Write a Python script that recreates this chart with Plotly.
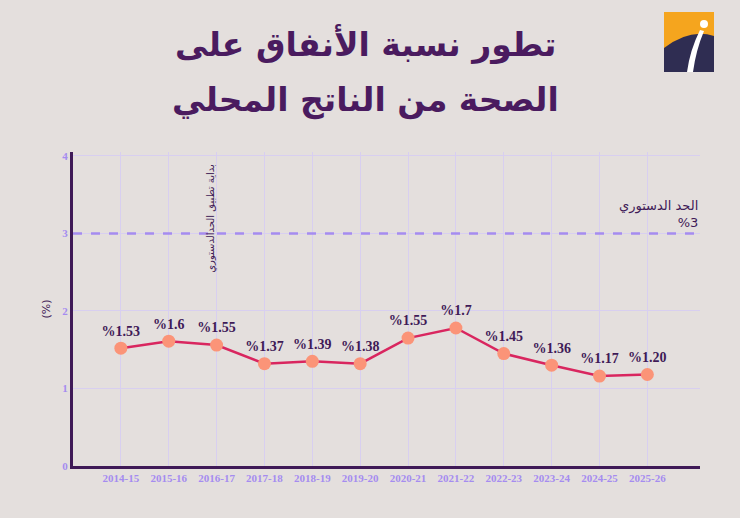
import plotly.graph_objects as go

# data
years = ["2014-15", "2015-16", "2016-17", "2017-18", "2018-19", "2019-20",
         "2020-21", "2021-22", "2022-23", "2023-24", "2024-25", "2025-26"]
share_plotted = [1.52, 1.61, 1.56, 1.32, 1.35, 1.32, 1.65, 1.78, 1.45, 1.30, 1.16, 1.18]
share_labels = ["%1.53", "%1.6", "%1.55", "%1.37", "%1.39", "%1.38",
                "%1.55", "%1.7", "%1.45", "%1.36", "%1.17", "%1.20"]
limit_value = 3
limit_start_year = "2016-17"
title_lines = ["تطور نسبة الأنفاق على", "الصحة من الناتج المحلي"]

bg = "#e4dfdd"
dark = "#3f1a57"
lavender = "#a58cf0"

L, R, T, B = 73, 40, 152, 52
PW, PH = 740 - L - R, 518 - T - B


def px_x(x):
    return (x - L) / PW


def px_y(y):
    return (518 - B - y) / PH


fig = go.Figure()

# constitutional limit
fig.add_trace(go.Scatter(
    x=[-1, 12.1], y=[limit_value, limit_value],
    mode="lines", line=dict(color=lavender, width=2.5, dash="dash"),
    hoverinfo="skip", showlegend=False
))

fig.add_trace(go.Scatter(
    x=list(range(len(years))), y=share_plotted,
    mode="lines+markers+text",
    line=dict(color="#d9265f", width=2.5),
    marker=dict(color="#fb9478", size=13),
    text=share_labels, textposition="top center",
    textfont=dict(family="Liberation Serif", size=14, color=dark, weight="bold"),
    showlegend=False
))

fig.update_layout(
    width=740, height=518,
    paper_bgcolor=bg, plot_bgcolor=bg,
    margin=dict(l=L, r=R, t=T, b=B),
    font=dict(family="DejaVu Sans", color=dark),
)

fig.update_xaxes(
    range=[-1, 12.1],
    tickmode="array", tickvals=list(range(len(years))), ticktext=years,
    tickfont=dict(family="Liberation Serif", size=11, color=lavender, weight="bold"),
    showgrid=True, gridcolor="#d8cff0", gridwidth=1,
    showline=True, linecolor=dark, linewidth=3,
    zeroline=False, ticks="", ticklabelstandoff=0,
)
fig.update_yaxes(
    range=[0, 4.05], tickvals=[0, 1, 2, 3, 4],
    tickfont=dict(family="Liberation Serif", size=11, color=lavender, weight="bold"),
    showgrid=True, gridcolor="#d8cff0", gridwidth=1,
    showline=True, linecolor=dark, linewidth=3,
    zeroline=False, ticks="",
    title=dict(text="(%)", font=dict(size=11, color=dark), standoff=10),
)

# title, two lines
for line, y_px in zip(title_lines, [45, 100]):
    fig.add_annotation(
        text=line, xref="paper", yref="paper",
        x=px_x(365), y=px_y(y_px),
        xanchor="center", yanchor="middle", showarrow=False,
        font=dict(family="DejaVu Sans", size=33, color="#4a1b5f", weight="bold"),
    )

# limit label
fig.add_annotation(
    text="الحد الدستوري<br>%3",
    x=12.1, y=limit_value, xanchor="right", yanchor="bottom",
    showarrow=False, align="right", yshift=1,
    font=dict(family="DejaVu Sans", size=13, color=dark),
)

# start of applying the limit
fig.add_annotation(
    text="بداية تطبيق الحدالدستوري",
    x=years.index(limit_start_year) - 0.12, y=3.2,
    textangle=-90, showarrow=False,
    font=dict(family="DejaVu Sans", size=10, color=dark),
)

# logo
fig.add_shape(type="rect", xref="paper", yref="paper",
              x0=px_x(664), x1=px_x(714), y0=px_y(72), y1=px_y(12),
              fillcolor="#f5a51e", line=dict(width=0), layer="above")
fig.add_shape(type="path", xref="paper", yref="paper",
              path="M {} {} Q {} {} {} {} L {} {} L {} {} Z".format(
                  px_x(664), px_y(48), px_x(690), px_y(28), px_x(714), px_y(36),
                  px_x(714), px_y(72), px_x(664), px_y(72)),
              fillcolor="#2f2d52", line=dict(width=0), layer="above")
fig.add_shape(type="path", xref="paper", yref="paper",
              path="M {} {} Q {} {} {} {} L {} {} Q {} {} {} {} Z".format(
                  px_x(700), px_y(30), px_x(690), px_y(50), px_x(687), px_y(72),
                  px_x(693), px_y(72), px_x(696), px_y(50), px_x(704), px_y(31)),
              fillcolor="white", line=dict(width=0), layer="above")
fig.add_shape(type="circle", xref="paper", yref="paper",
              x0=px_x(700), x1=px_x(708), y0=px_y(28), y1=px_y(20),
              fillcolor="white", line=dict(width=0), layer="above")

fig.write_html("out.html", config={"displayModeBar": False},
               post_script="document.body.style.margin='0';"
                           "document.body.style.background='" + bg + "';")
